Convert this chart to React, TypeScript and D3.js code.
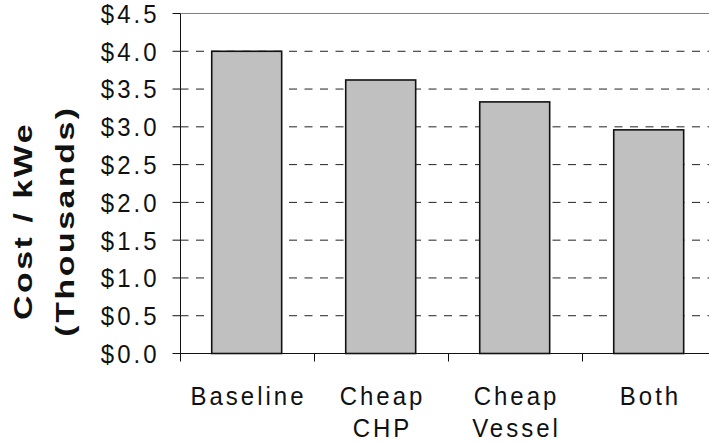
import React from "react";
import * as d3 from "d3";

// Cost per kWe for each scenario, in thousands of dollars
const categories: string[][] = [["Baseline"], ["Cheap", "CHP"], ["Cheap", "Vessel"], ["Both"]];
const costValues: number[] = [4.0, 3.62, 3.33, 2.96];
const yTicks: number[] = [0, 0.5, 1.0, 1.5, 2.0, 2.5, 3.0, 3.5, 4.0, 4.5];
const yTitleLines: string[] = ["Cost / kWe", "(Thousands)"];

const W = 709;
const H = 444;
const plotLeft = 180.5;
const bandStep = 134;
const plotTop = 13.5;
const plotBottom = 353.5;
const font = "'Liberation Sans', Arial, sans-serif";
const textStretch = 1.09;

export default function App() {
  const keys = categories.map((c) => c.join(" "));
  const x = d3
    .scaleBand<string>()
    .domain(keys)
    .range([plotLeft, plotLeft + bandStep * keys.length])
    .padding(0);
  const y = d3.scaleLinear().domain([0, 4.5]).range([plotBottom, plotTop]);
  const barW = x.bandwidth() * 0.522;
  const fmt = (v: number) => "$" + d3.format(".1f")(v);

  return (
    <svg
      width={W}
      height={H}
      style={{ position: "absolute", left: 0, top: 0, background: "#fff" }}
    >
      {/* horizontal gridlines */}
      {yTicks
        .filter((t) => t > 0)
        .map((t) => (
          <line
            key={"g" + t}
            x1={plotLeft}
            x2={W}
            y1={y(t)}
            y2={y(t)}
            stroke={t === 4.5 ? "#808080" : "#222"}
            strokeWidth={1}
            strokeDasharray={t === 4.5 ? undefined : "8 7.5"}
          />
        ))}

      {/* bars */}
      {costValues.map((v, i) => {
        const bx = (x(keys[i]) as number) + (x.bandwidth() - barW) / 2 - 0.8;
        return (
          <rect
            key={"b" + i}
            x={bx}
            y={y(v)}
            width={barW}
            height={y(0) - y(v)}
            fill="#c0c0c0"
            stroke="#111"
            strokeWidth={1.6}
          />
        );
      })}

      {/* y axis */}
      <line x1={plotLeft} x2={plotLeft} y1={plotTop} y2={plotBottom + 8} stroke="#111" strokeWidth={1} />
      {yTicks.map((t) => (
        <g key={"yt" + t}>
          <line x1={plotLeft - 8} x2={plotLeft} y1={y(t)} y2={y(t)} stroke="#111" strokeWidth={1} />
          <text
            transform={`translate(${plotLeft - 21},${y(t)}) scale(1,${textStretch})`}
            dy="0.36em"
            textAnchor="end"
            fontFamily={font}
            fontSize={24}
            letterSpacing={3}
            fill="#111"
          >
            {fmt(t)}
          </text>
        </g>
      ))}

      {/* x axis */}
      <line x1={plotLeft} x2={W} y1={plotBottom} y2={plotBottom} stroke="#111" strokeWidth={1} />
      {keys.map((k, i) => {
        const cx = (x(k) as number) + x.bandwidth() / 2 + 1;
        return (
          <g key={"xt" + i}>
            <line
              x1={(x(k) as number) + bandStep}
              x2={(x(k) as number) + bandStep}
              y1={plotBottom}
              y2={plotBottom + 8}
              stroke="#111"
              strokeWidth={1}
            />
            <text
              transform={`translate(${cx},405) scale(1,${textStretch})`}
              textAnchor="middle"
              fontFamily={font}
              fontSize={24}
              letterSpacing={3}
              fill="#111"
            >
              {categories[i].map((line, j) => (
                <tspan key={j} x={0} y={(j * 32) / textStretch}>
                  {line}
                </tspan>
              ))}
            </text>
          </g>
        );
      })}

      {/* y axis title */}
      {yTitleLines.map((line, j) => (
        <text
          key={"yl" + j}
          transform={`translate(${31.5 + j * 42.5},${221}) rotate(-90) scale(1.3,1)`}
          textAnchor="middle"
          fontFamily={font}
          fontSize={26}
          fontWeight="bold"
          letterSpacing={2}
          fill="#111"
        >
          {line}
        </text>
      ))}
    </svg>
  );
}
